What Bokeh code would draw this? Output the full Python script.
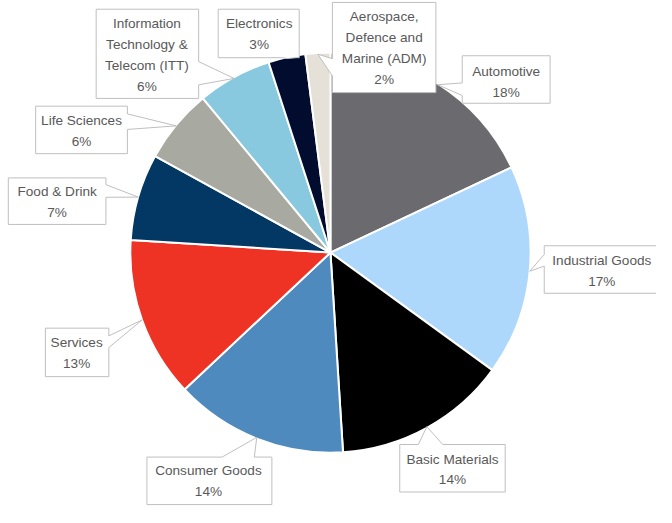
import math
from bokeh.plotting import figure
from bokeh.models import Range1d, ColumnDataSource
from bokeh.embed import file_html
from bokeh.resources import INLINE
from bokeh.core.properties import value

# ---------------- data ----------------
categories = ["Automotive", "Industrial Goods", "Basic Materials", "Consumer Goods",
              "Services", "Food & Drink", "Life Sciences",
              "Information Technology & Telecom (ITT)", "Electronics",
              "Aerospace, Defence and Marine (ADM)"]
shares = [18, 17, 14, 14, 13, 7, 6, 6, 3, 2]
colors = ["#6b6b6f", "#add8fb", "#000000", "#4e8abe", "#ee3224",
          "#033764", "#a8aaa2", "#88c9df", "#020c2e", "#e6e1d8"]
label_lines = [["Automotive"], ["Industrial Goods"], ["Basic Materials"],
               ["Consumer Goods"], ["Services"], ["Food & Drink"], ["Life Sciences"],
               ["Information", "Technology &", "Telecom (ITT)"], ["Electronics"],
               ["Aerospace,", "Defence and", "Marine (ADM)"]]

# ---------------- layout (reference pixel coords, y down) ----------------
REF_W, REF_H = 672, 523
CX, CY, R = 338, 260, 205
# box: (left, top, right, bottom), pointer side, pointer base (a, b), text x, first line y
boxes = [
    ((473, 57, 563, 106), "left", (85, 98), 518, 73),
    ((557, 253, 690, 302), "left", (262, 274), 616, 268),
    ((409, 458, 517, 507), "top", (428, 453), 463, 473),
    ((150, 471, 278, 520), "top", (227, 260), 213, 485),
    ((46, 338, 111, 388), "right", (346, 358), 78, 353),
    ((8, 183, 108, 231), "right", (190, 203), 58, 197),
    ((36, 109, 130, 158), "right", (117, 133), 83, 124),
    ((98, 9, 203, 101), "right", (63, 87), 150, 24),
    ((223, 9, 306, 59), "bottom", (289, 303), 265, 24),
    ((340, 2, 446, 95), "left", (60, 78), 393, 17),
]
LINE_STEP = 21.6

def Y(py):
    return REF_H - py

p = figure(width=656, height=507, x_range=Range1d(0, REF_W), y_range=Range1d(0, REF_H),
           output_backend="svg", toolbar_location=None, min_border=0,
           x_axis_type=None, y_axis_type=None)
p.grid.visible = False
p.outline_line_color = None
p.background_fill_color = "white"
p.border_fill_color = "white"

# ---------------- pie ----------------
total = float(sum(shares))
starts, ends, mids = [], [], []
cum = 0.0
for s in shares:
    f0 = cum / total
    cum += s
    f1 = cum / total
    starts.append(math.pi / 2 - 2 * math.pi * f1)
    ends.append(math.pi / 2 - 2 * math.pi * f0)
    mids.append((f0 + f1) / 2)

src = ColumnDataSource(dict(start=starts, end=ends, color=colors, cat=categories))
p.wedge(x=CX, y=Y(CY), radius=R, start_angle="start", end_angle="end",
        direction="anticlock", fill_color="color", line_color="white", line_width=2,
        source=src)

# ---------------- callouts ----------------
xs, ys = [], []
tx, ty, tt = [], [], []
for i, (box, side, base, cx_t, y0) in enumerate(boxes):
    L, T, Rr, B = box
    m = mids[i]
    tipx = CX + R * math.sin(2 * math.pi * m)
    tipy = CY - R * math.cos(2 * math.pi * m)
    a, b = base
    if side == "left":
        pts = [(L, T), (Rr, T), (Rr, B), (L, B), (L, b), (tipx, tipy), (L, a)]
    elif side == "right":
        pts = [(L, T), (Rr, T), (Rr, a), (tipx, tipy), (Rr, b), (Rr, B), (L, B)]
    elif side == "top":
        pts = [(L, T), (a, T), (tipx, tipy), (b, T), (Rr, T), (Rr, B), (L, B)]
    else:
        pts = [(L, T), (Rr, T), (Rr, B), (b, B), (tipx, tipy), (a, B), (L, B)]
    xs.append([q[0] for q in pts])
    ys.append([Y(q[1]) for q in pts])
    lines = label_lines[i] + ["%d%%" % shares[i]]
    for k, ln in enumerate(lines):
        tx.append(cx_t)
        ty.append(Y(y0 + k * LINE_STEP))
        tt.append(ln)

p.patches(xs=xs, ys=ys, fill_color="white", line_color="#bfbfbf", line_width=1)
p.text(x=tx, y=ty, text=tt, text_font=value("Liberation Sans"), text_font_size="13.6px",
       text_color="#595959", text_align="center", text_baseline="middle")

open("out.html", "w").write(file_html(p, INLINE))
